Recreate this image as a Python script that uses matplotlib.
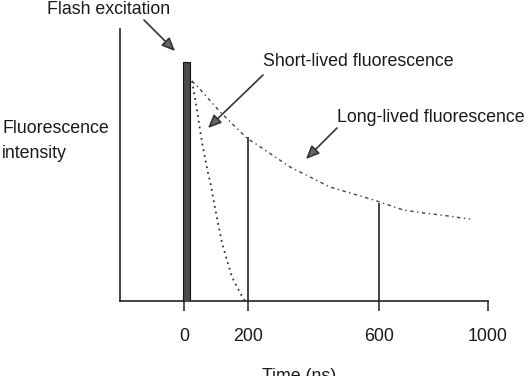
import numpy as np
import matplotlib
matplotlib.use("Agg")
import matplotlib.pyplot as plt

plt.rcParams['font.family'] = ['Liberation Sans', 'DejaVu Sans']

# time axis is drawn unevenly in the original, so a piecewise scale is used
axis_knots_ns = [-200, 0, 200, 600, 1000]
axis_knots_pos = [120, 184, 248, 379, 488]
time_ticks = [0, 200, 600, 1000]

# flash pulse (ns) and its height
flash_start, flash_end, flash_height = -4, 19, 0.879

# short-lived decay
short_t = [25, 41, 50, 59, 75, 84, 94, 106, 119, 134, 150, 166, 184, 191]
short_i = [0.809, 0.70, 0.629, 0.566, 0.471, 0.426, 0.36, 0.287, 0.213,
           0.151, 0.088, 0.051, 0.011, 0.0]

# long-lived decay
long_t = [25, 41, 113, 200, 221, 328, 450, 563, 603, 688, 761, 850, 934]
long_i = [0.809, 0.79, 0.695, 0.595, 0.58, 0.493, 0.419, 0.379, 0.364,
          0.335, 0.324, 0.313, 0.301]

# markers at 200 and 600 ns
mark_t = [200, 600]
mark_i = [0.603, 0.36]


def fwd(x):
    return np.interp(x, axis_knots_ns, axis_knots_pos)


def inv(x):
    return np.interp(x, axis_knots_pos, axis_knots_ns)


fig = plt.figure(figsize=(5.28, 3.76), dpi=100)
ax = fig.add_axes([120 / 528, 75 / 376, 368 / 528, 272 / 376])
ax.set_xscale('function', functions=(fwd, inv))
ax.set_xlim(-200, 1000)
ax.set_ylim(0, 1)

ink = '#222222'

ax.bar(flash_start, flash_height, width=flash_end - flash_start, align='edge',
       color='#4a4a4a', edgecolor='#111111', linewidth=0.8, zorder=3)
ax.plot(short_t, short_i, linestyle=(0, (1, 2.2)), color='#333333', lw=1.3)
ax.plot(long_t, long_i, linestyle=(0, (2.5, 2.5, 1, 2.5)), color='#444444', lw=1.0)
ax.vlines(mark_t, 0, mark_i, color=ink, lw=1.2)

for side in ('top', 'right'):
    ax.spines[side].set_visible(False)
for side in ('left', 'bottom'):
    ax.spines[side].set_color(ink)
    ax.spines[side].set_linewidth(1.2)

ax.set_yticks([])
ax.set_xticks(time_ticks)
ax.set_xticklabels([str(t) for t in time_ticks])
ax.xaxis.set_minor_locator(matplotlib.ticker.NullLocator())
ax.tick_params(axis='x', direction='out', length=7.5, width=1.1, color=ink,
               pad=12, labelsize=12.8, labelcolor='#1a1a1a')

txt = dict(fontsize=12.8, color='#1a1a1a')
arrow = dict(arrowstyle='-|>,head_length=0.8,head_width=0.35', color='#333333',
             fc='#666666', lw=1.2, shrinkA=0, shrinkB=0)

ax.annotate('', xy=(-28, 0.919), xycoords='data', xytext=(144, 376 - 20),
            textcoords='figure pixels', arrowprops=arrow)
ax.annotate('', xy=(75, 0.636), xycoords='data', xytext=(263, 376 - 75),
            textcoords='figure pixels', arrowprops=arrow)
ax.annotate('', xy=(377, 0.522), xycoords='data', xytext=(337, 376 - 128),
            textcoords='figure pixels', arrowprops=arrow)

fig.text(47 / 528, 1 - 10 / 376, 'Flash excitation', va='center', ha='left', **txt)
fig.text(263 / 528, 1 - 62 / 376, 'Short-lived fluorescence', va='center', ha='left', **txt)
fig.text(337 / 528, 1 - 117 / 376, 'Long-lived fluorescence', va='center', ha='left', **txt)
fig.text(2 / 528, 1 - 128 / 376, 'Fluorescence', va='center', ha='left', **txt)
fig.text(2 / 528, 1 - 154 / 376, 'intensity', va='center', ha='left', **txt)
fig.text(262 / 528, 1 - 368 / 376, 'Time (ns)', va='top', ha='left', **txt)

fig.savefig('out.png', dpi=100)
